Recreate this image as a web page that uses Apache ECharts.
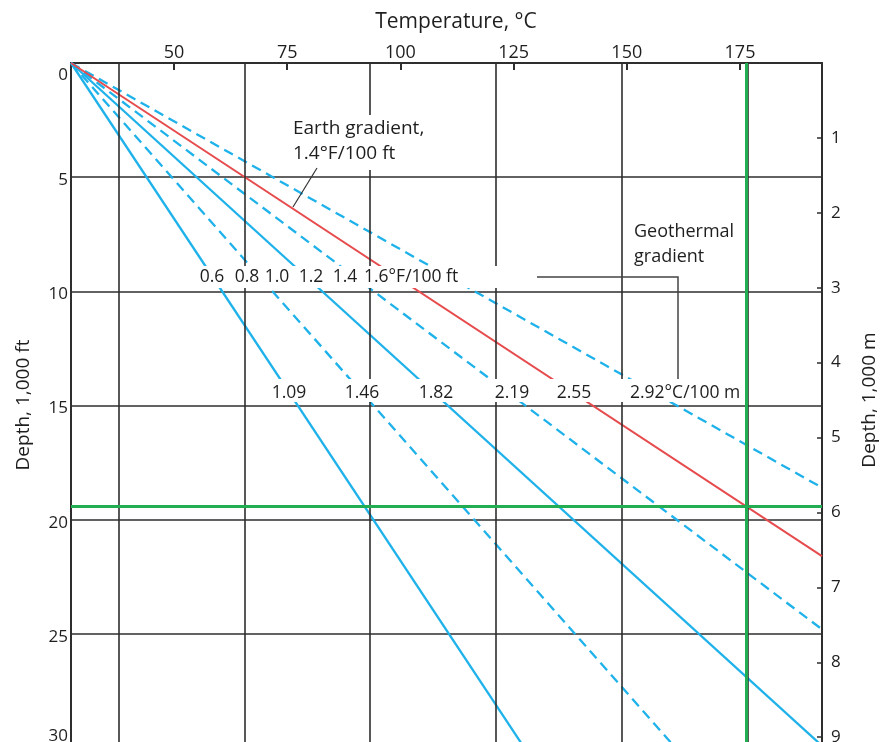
<!DOCTYPE html>
<html>
<head>
<meta charset="utf-8">
<title>Geothermal gradient</title>
<style>
    html, body { margin: 0; padding: 0; background: #fff; }
    #gradient-chart { width: 881px; height: 742px; }
</style>
</head>
<body>
<div id="gradient-chart"></div>
<script src="https://cdn.jsdelivr.net/npm/echarts@6.0.0/dist/echarts.min.js"></script>
<script>
"use strict";

// ------------------------------
// Data
// ------------------------------
var surfaceTemp = 27.25;                     // °C at depth 0, where every line starts
var gradientF = ['0.6', '0.8', '1.0', '1.2', '1.4', '1.6'];   // °F/100 ft
var gradientC = ['1.09', '1.46', '1.82', '2.19', '2.55', '2.92']; // °C/100 m
var lineEndTemp = [127.4, 160.8, 193.1, 193.1, 193.1, 193.1]; // °C where each line leaves the plot
var lineEndDepth = [30, 30, 29.9, 24.8, 21.6, 18.6];          // 1,000 ft
var tempTicks = [50, 75, 100, 125, 150, 175];                 // top axis, °C
var gridF = [100, 150, 200, 250, 300, 350];                   // vertical grid, °F
var greenTemp = 176.3;                                        // °C
var greenDepth = 19.42;                                       // 1,000 ft

var tempMin = 27.25, tempMax = 193.11;
var depthMax = 30;

var FONT = "'Open Sans', sans-serif";
var INK = '#1e1e1e';
var GRID = '#2e2e2e';
var BLUE = '#1fb2ea';
var RED = '#e64b4d';
var GREEN = '#22ad52';

var chart = echarts.init(document.getElementById('gradient-chart'));

// Gradient lines, solid / dashed alternating, 1.4 is the red earth gradient
var series = gradientF.map(function (g, i) {
    var isEarth = g === '1.4';
    return {
        name: g,
        type: 'line',
        symbol: 'none',
        clip: true,
        z: isEarth ? 4 : 3,
        lineStyle: {
            color: isEarth ? RED : BLUE,
            width: isEarth ? 2 : 2.3,
            type: (i % 2 === 1) ? [10, 6] : 'solid'
        },
        data: [[surfaceTemp, 0], [lineEndTemp[i], lineEndDepth[i]]]
    };
});

// Vertical grid lines sit on the Fahrenheit scale
series.push({
    type: 'line',
    data: [],
    z: 1,
    silent: true,
    markLine: {
        silent: true,
        symbol: ['none', 'none'],
        label: { show: false },
        lineStyle: { type: 'solid', color: GRID, width: 1.6 },
        data: gridF.map(function (f) { return { xAxis: (f - 32) / 1.8 }; })
    }
});

// Green reading lines
series.push({
    type: 'line',
    data: [],
    z: 3,
    silent: true,
    markLine: {
        silent: true,
        symbol: ['none', 'none'],
        label: { show: false },
        lineStyle: { type: 'solid', color: GREEN, width: 3 },
        data: [{ xAxis: greenTemp }, { yAxis: greenDepth }]
    }
});

function label(text, x, y, size, align) {
    return {
        type: 'text', x: x, y: y, z: 101,
        style: {
            text: text, fill: INK, font: size + 'px ' + FONT,
            textAlign: align || 'center', textVerticalAlign: 'middle'
        }
    };
}

function whiteBox(x, y, w, h) {
    return {
        type: 'rect', z: 100, silent: true,
        shape: { x: x, y: y, width: w, height: h },
        style: { fill: '#fff' }
    };
}

var fLabelX = [212, 247, 277, 311, 345];
var cLabelX = [289, 362, 436, 512, 574];

var graphics = [
    // axis titles
    label('Temperature, °C', 456, 22, 21),
    {
        type: 'text', x: 24, y: 405, rotation: Math.PI / 2, z: 101,
        style: { text: 'Depth, 1,000 ft', fill: INK, font: '19px ' + FONT,
                 textAlign: 'center', textVerticalAlign: 'middle' }
    },
    {
        type: 'text', x: 870, y: 400, rotation: Math.PI / 2, z: 101,
        style: { text: 'Depth, 1,000 m', fill: INK, font: '19px ' + FONT,
                 textAlign: 'center', textVerticalAlign: 'middle' }
    },

    // earth gradient note
    whiteBox(288, 115, 144, 55),
    label('Earth gradient,', 293, 129, 19, 'left'),
    label('1.4°F/100 ft', 293, 154, 19, 'left'),
    {
        type: 'line', z: 102, silent: true,
        shape: { x1: 317, y1: 168, x2: 293, y2: 207 },
        style: { stroke: '#333', lineWidth: 1.2 }
    },

    // geothermal gradient note
    label('Geothermal', 634, 232, 18, 'left'),
    label('gradient', 634, 257, 18, 'left'),
    {
        type: 'polyline', z: 102, silent: true,
        shape: { points: [[537, 277], [678, 277], [678, 379]] },
        style: { stroke: '#444', lineWidth: 1.5, fill: null }
    },

    // label rows
    whiteBox(200, 266, 332, 22),
    whiteBox(265, 379, 477, 23)
];

gradientF.forEach(function (g, i) {
    if (i < gradientF.length - 1) {
        graphics.push(label(g, fLabelX[i], 277, 17.5));
    } else {
        graphics.push(label(g + '°F/100 ft', 364, 277, 17.5, 'left'));
    }
});
gradientC.forEach(function (c, i) {
    if (i < gradientC.length - 1) {
        graphics.push(label(c, cLabelX[i], 393, 17.5));
    } else {
        graphics.push(label(c + '°C/100 m', 630, 393, 17.5, 'left'));
    }
});

var option = {

    animation: false,
    textStyle: { fontFamily: FONT, color: INK },

    // Setup grid
    grid: {
        left: 71,
        top: 63,
        width: 751,
        height: 685,
        containLabel: false,
        outerBoundsMode: 'none'
    },

    // Temperature on top
    xAxis: [{
        type: 'value',
        position: 'top',
        min: tempMin,
        max: tempMax,
        axisLine: { show: true, lineStyle: { color: GRID, width: 2 } },
        axisTick: { show: true, inside: true, length: 7, customValues: tempTicks,
                    lineStyle: { color: GRID, width: 2 } },
        axisLabel: { customValues: tempTicks, fontSize: 18, color: INK, margin: 1 },
        splitLine: { show: false }
    }],

    // Depth in feet (left) and metres (right)
    yAxis: [{
        type: 'value',
        inverse: true,
        min: 0,
        max: depthMax,
        interval: 5,
        axisLine: { show: true, lineStyle: { color: GRID, width: 2 } },
        axisTick: { show: false },
        axisLabel: {
            margin: 3,
            formatter: function (v) {
                if (v === 0) { return '{top|0}'; }
                if (v === 30) { return '{bot|30}'; }
                return '{mid|' + v + '}';
            },
            rich: {
                top: { fontSize: 17, color: INK, fontFamily: FONT, padding: [24, 0, 0, 0] },
                mid: { fontSize: 17, color: INK, fontFamily: FONT, padding: [6, 0, 0, 0] },
                bot: { fontSize: 17, color: INK, fontFamily: FONT, padding: [0, 0, 24, 0] }
            }
        },
        splitLine: { show: true, lineStyle: { color: GRID, width: 1.6 } }
    }, {
        type: 'value',
        position: 'right',
        inverse: true,
        min: 0,
        max: depthMax / 3.28084,
        interval: 1,
        axisLine: { show: true, lineStyle: { color: GRID, width: 2 } },
        axisTick: { show: true, inside: true, length: 5, lineStyle: { color: GRID, width: 1.5 } },
        axisLabel: { showMinLabel: false, showMaxLabel: false, fontSize: 17, color: INK, margin: 9 },
        splitLine: { show: false }
    }],

    series: series,
    graphic: graphics
};

chart.setOption(option);

window.addEventListener('resize', function () {
    setTimeout(function () {
        chart.resize();
    }, 200);
});
</script>
</body>
</html>
